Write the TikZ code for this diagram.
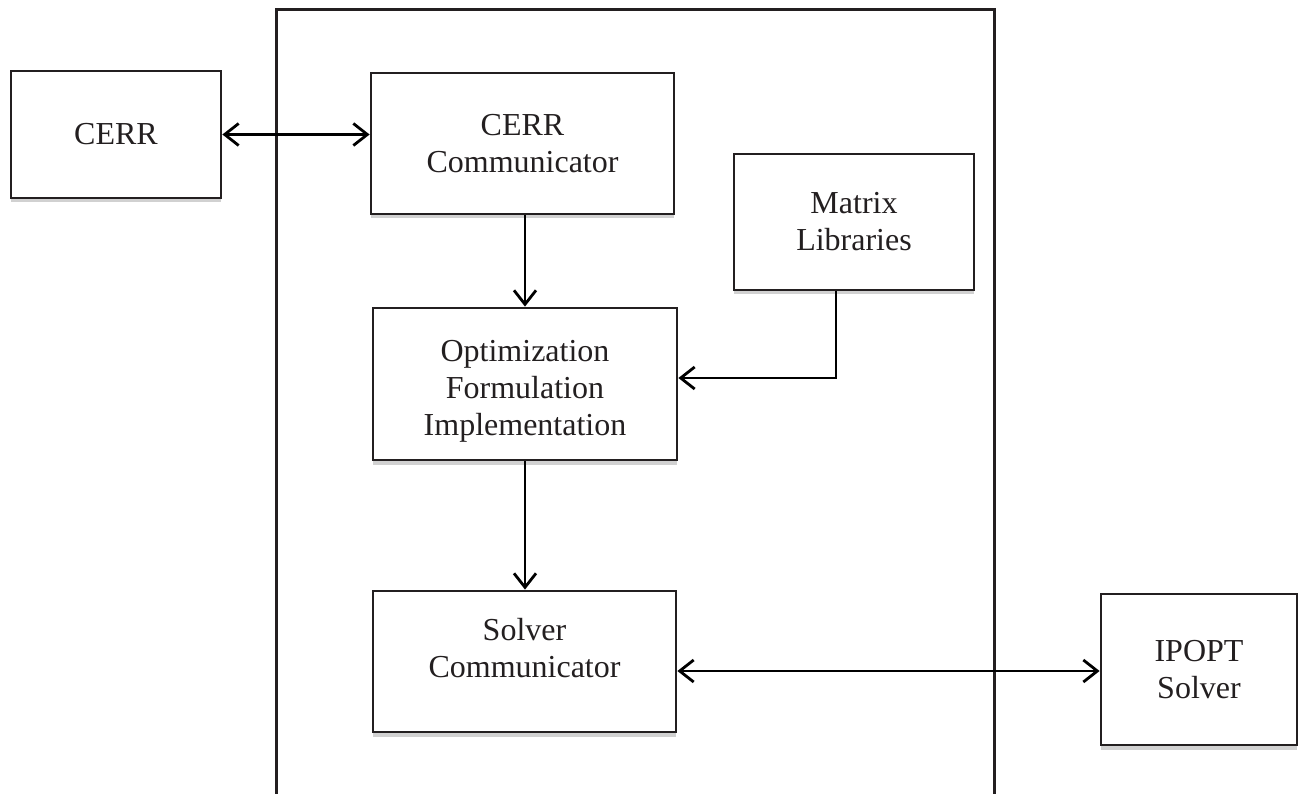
\documentclass[tikz,border=0pt]{standalone}
\usepackage{fontspec}
\setmainfont{Liberation Serif}
\usetikzlibrary{arrows.meta,shadows}
\definecolor{ink}{HTML}{231F20}
\begin{document}
\begin{tikzpicture}[x=1pt,y=-1pt,
  boxtext/.style={align=center, text=ink, font=\fontsize{32}{37}\selectfont, inner sep=0pt},
  box/.style={draw=ink, line width=2.8pt, fill=white, boxtext,
    drop shadow={shadow xshift=0pt, shadow yshift=-4.5pt, fill=black!18, opacity=1}},
  conn/.style={draw=black, line width=2.8pt},
  tip/.style={-{Straight Barb[length=14pt,width=22pt]}},
  bitip/.style={{Straight Barb[length=14pt,width=22pt]}-{Straight Barb[length=14pt,width=22pt]}}
]
\useasboundingbox (0,0) rectangle (1299,794);
\begin{scope}
\clip (0,0) rectangle (1299,794);
% outer container
\node[draw=ink, line width=2.8pt, minimum width=718pt, minimum height=800pt, inner sep=0pt, anchor=north west] (frame) at (275,8) {};
\end{scope}

\node[box, minimum width=210pt, minimum height=127pt] (cerr) at (116,134.5) {CERR};
\node[box, minimum width=303pt, minimum height=141pt] (cc) at (522.5,143.5) {CERR\\Communicator};
\node[box, minimum width=240pt, minimum height=136pt] (mat) at (854,222) {Matrix\\Libraries};
\node[box, minimum width=304pt, minimum height=152pt,
  label={[boxtext, yshift=-7pt]center:Optimization\\Formulation\\Implementation}] (opt) at (525,384) {};
\node[box, minimum width=303pt, minimum height=141pt,
  label={[boxtext, yshift=13pt]center:Solver\\Communicator}] (sc) at (524.5,661.5) {};
\node[box, minimum width=196pt, minimum height=151pt] (ip) at (1199,669.5) {IPOPT\\Solver};

\coordinate (mc) at (836,378);
\coordinate (sy) at (0,671);

\draw[conn,bitip] (cerr.east) -- (cerr.east -| cc.west);
\draw[conn,tip] (opt.north |- cc.south) -- (opt.north);
\draw[conn,tip] (mc |- mat.south) -- (mc) -- (mc -| opt.east);
\draw[conn,tip] (opt.south) -- (sc.north -| opt.south);
\draw[conn,bitip] (sc.east |- sy) -- (ip.west |- sy);
\end{tikzpicture}
\end{document}
